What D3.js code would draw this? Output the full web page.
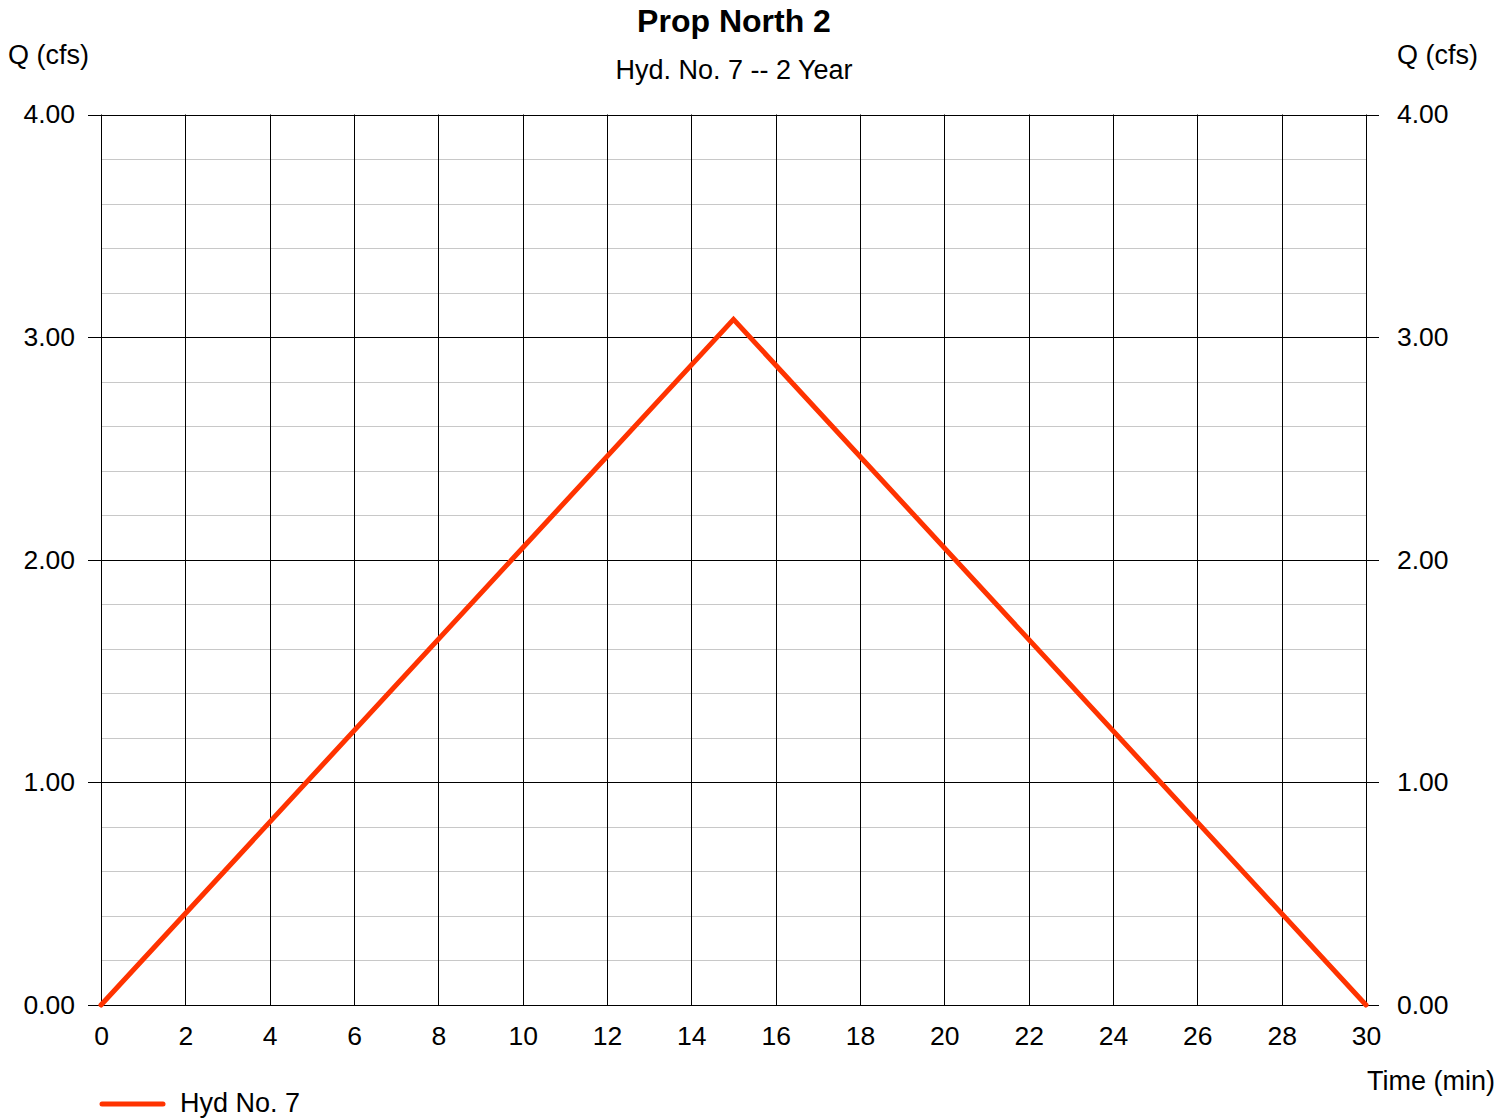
<!DOCTYPE html>
<html>
<head>
<meta charset="utf-8">
<script src="https://cdn.jsdelivr.net/npm/d3@7"></script>
<style>
  html, body { margin: 0; padding: 0; background: #fff; }
  svg { display: block; font-family: "Liberation Sans", Arial, sans-serif; }
</style>
</head>
<body>
<svg id="chart" width="1512" height="1118"></svg>
<script>
// ---- data ----
const title = "Prop North 2";
const subtitle = "Hyd. No. 7 -- 2 Year";
const seriesName = "Hyd No. 7";
const timeMin = [0, 15, 30];
const flowCfs = [0.00, 3.08, 0.00];
const xTicks = [0, 2, 4, 6, 8, 10, 12, 14, 16, 18, 20, 22, 24, 26, 28, 30];
const yTicks = [0, 1, 2, 3, 4];
const yMinorTicks = [0.2, 0.4, 0.6, 0.8, 1.2, 1.4, 1.6, 1.8, 2.2, 2.4, 2.6, 2.8, 3.2, 3.4, 3.6, 3.8];

(function () {
// ---- layout ----
const pL = 101, pR = 1366, pT = 114.5, pB = 1005;
const svg = d3.select("#chart");
const x = d3.scaleLinear().domain([0, 30]).range([pL, pR]);
const y = d3.scaleLinear().domain([0, 4]).range([pB, pT]);

// minor horizontal grid
svg.append("g").selectAll("line").data(yMinorTicks).join("line")
  .attr("x1", pL).attr("x2", pR)
  .attr("y1", d => Math.round(y(d)) + 0.5).attr("y2", d => Math.round(y(d)) + 0.5)
  .attr("stroke", "#c8c8c8").attr("stroke-width", 1);

// major horizontal grid
svg.append("g").selectAll("line").data(yTicks).join("line")
  .attr("x1", pL - 13).attr("x2", pR + 13)
  .attr("y1", d => Math.round(y(d)) + 0.5).attr("y2", d => Math.round(y(d)) + 0.5)
  .attr("stroke", "#000").attr("stroke-width", 1);

// vertical grid
svg.append("g").selectAll("line").data(xTicks).join("line")
  .attr("x1", d => Math.round(x(d)) + 0.5).attr("x2", d => Math.round(x(d)) + 0.5)
  .attr("y1", pT).attr("y2", pB)
  .attr("stroke", "#000").attr("stroke-width", 1);

// axis labels via d3 axes
const fs = 26.5;
const gl = svg.append("g").attr("transform", `translate(${pL},0)`)
  .call(d3.axisLeft(y).tickValues(yTicks).tickFormat(d3.format(".2f")).tickSize(0).tickPadding(26));
const gr = svg.append("g").attr("transform", `translate(${pR},0)`)
  .call(d3.axisRight(y).tickValues(yTicks).tickFormat(d3.format(".2f")).tickSize(0).tickPadding(31));
const gb = svg.append("g").attr("transform", `translate(0,${pB})`)
  .call(d3.axisBottom(x).tickValues(xTicks).tickFormat(d3.format("d")).tickSize(0).tickPadding(21));
[gl, gr, gb].forEach(g => {
  g.select(".domain").remove();
  g.attr("font-family", null).attr("font-size", null);
  g.selectAll("text").attr("font-size", fs).attr("fill", "#000");
});

// series line
const line = d3.line().x((d, i) => x(timeMin[i])).y(d => y(d));
svg.append("path").datum(flowCfs)
  .attr("d", line).attr("fill", "none")
  .attr("stroke", "#ff3300").attr("stroke-width", 5)
  .attr("stroke-linejoin", "miter").attr("stroke-linecap", "round");

// titles
const tfs = 27;
svg.append("text").attr("x", 734).attr("y", 32).attr("text-anchor", "middle")
  .attr("font-size", 32).attr("font-weight", "bold").text(title);
svg.append("text").attr("x", 734).attr("y", 79).attr("text-anchor", "middle")
  .attr("font-size", tfs).text(subtitle);
svg.append("text").attr("x", 8).attr("y", 64).attr("font-size", tfs).text("Q (cfs)");
svg.append("text").attr("x", 1397).attr("y", 64).attr("font-size", tfs).text("Q (cfs)");
svg.append("text").attr("x", 1495).attr("y", 1090).attr("text-anchor", "end")
  .attr("font-size", tfs).text("Time (min)");

// legend
svg.append("line").attr("x1", 102).attr("x2", 163).attr("y1", 1104).attr("y2", 1104)
  .attr("stroke", "#ff3300").attr("stroke-width", 5).attr("stroke-linecap", "round");
svg.append("text").attr("x", 180).attr("y", 1112).attr("font-size", tfs).text(seriesName);
})();
</script>
</body>
</html>
